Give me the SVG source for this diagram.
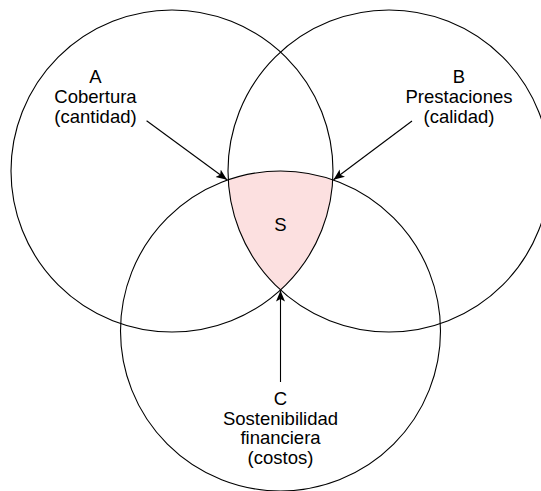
<svg xmlns="http://www.w3.org/2000/svg" width="541" height="491" viewBox="0 0 541 491">
  <style>
    .ring { fill: none; stroke: #000; stroke-width: 1.1; }
    .lbl { font-family: "Liberation Sans", Arial, sans-serif; font-size: 18.5px; fill: #000; text-anchor: middle; }
    .conn { stroke: #000; stroke-width: 1.1; fill: none; }
  </style>
  <defs>
    <marker id="arrow" markerUnits="userSpaceOnUse" markerWidth="12" markerHeight="10" refX="11" refY="4.5" orient="auto">
      <path d="M0,0 L11,4.5 L0,9 L2.5,4.5 Z" fill="#000"/>
    </marker>
  </defs>
  <rect width="541" height="491" fill="#fff"/>
  <g id="S">
    <path d="M228.3,179.8 A160,160 0 0 1 332.7,179.8 A161,161 0 0 1 280.5,290 A161,161 0 0 1 228.3,179.8 Z" fill="#fce0e0" stroke="none"/>
    <text class="lbl" x="280.5" y="230.5">S</text>
  </g>
  <g id="A">
    <circle class="ring" cx="172" cy="171" r="161"/>
    <text class="lbl" x="95.5" y="82.8">A</text>
    <text class="lbl" x="95.5" y="103.3">Cobertura</text>
    <text class="lbl" x="95.5" y="123.3">(cantidad)</text>
  </g>
  <g id="B">
    <circle class="ring" cx="389" cy="171" r="161"/>
    <text class="lbl" x="459" y="82.8">B</text>
    <text class="lbl" x="459" y="103.3">Prestaciones</text>
    <text class="lbl" x="459" y="123.3">(calidad)</text>
  </g>
  <g id="C">
    <circle class="ring" cx="280.5" cy="331" r="160"/>
    <text class="lbl" x="280.5" y="405">C</text>
    <text class="lbl" x="280.5" y="424.5">Sostenibilidad</text>
    <text class="lbl" x="280.5" y="444">financiera</text>
    <text class="lbl" x="280.5" y="463.5">(costos)</text>
  </g>
  <g id="connectors">
    <line class="conn" x1="146.6" y1="120.7" x2="227" y2="179.8" marker-end="url(#arrow)"/>
    <line class="conn" x1="412" y1="121" x2="333.5" y2="179.8" marker-end="url(#arrow)"/>
    <line class="conn" x1="280.5" y1="382" x2="280.5" y2="290.5" marker-end="url(#arrow)"/>
  </g>
</svg>
